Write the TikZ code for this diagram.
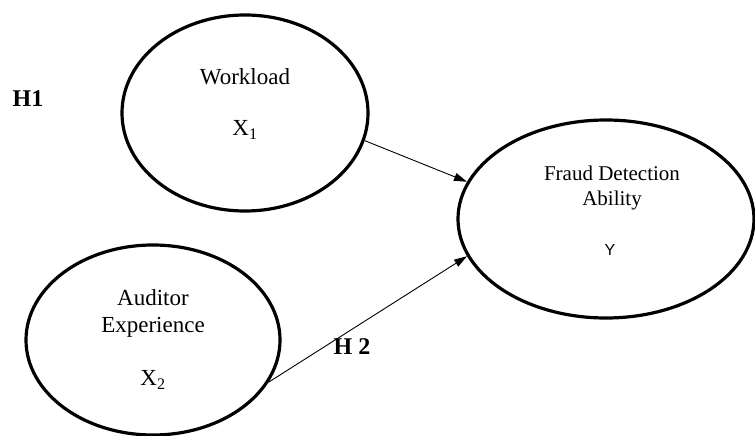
\documentclass[tikz,border=0pt]{standalone}
\usepackage{fontspec}
\setmainfont{Liberation Serif}
\newfontfamily\ysans{Liberation Sans}
\usetikzlibrary{shapes.geometric,arrows.meta}
\begin{document}
\begin{tikzpicture}[x=1pt,y=-1pt,
  var/.style={draw=black,line width=3.2pt,ellipse,inner sep=0pt},
  lbl/.style={inner sep=0pt,font=\fontsize{23}{27}\selectfont},
  hyp/.style={inner sep=0pt,font=\fontsize{24}{28}\selectfont\bfseries},
  link/.style={draw=black,line width=0.9pt,-{Triangle[length=13pt,width=8pt]}}]
\useasboundingbox (0,0) rectangle (755,436);
\node[var,minimum width=246pt,minimum height=196pt] (wl) at (245,113) {};
\node[var,minimum width=254pt,minimum height=190pt] (ae) at (153,340) {};
\node[var,minimum width=296pt,minimum height=198pt] (fd) at (606,219) {};
\node[lbl] (wlt) at (245,77) {Workload};
\node[lbl] (x1) at (245,130) {X\textsubscript{1}};
\node[lbl] (aet1) at (153,298) {Auditor};
\node[lbl] (aet2) at (153,327) {Experience};
\node[lbl] (x2) at (153,380) {X\textsubscript{2}};
\node[inner sep=0pt,font=\fontsize{21}{25}\selectfont] (fdt1) at (612,173) {Fraud Detection};
\node[inner sep=0pt,font=\fontsize{21}{25}\selectfont] (fdt2) at (612,200) {Ability};
\node[inner sep=0pt,font=\ysans\fontsize{16}{19}\selectfont] (yt) at (610,250) {Y};
\node[hyp] (h1) at (28,99) {H1};
\node[hyp] (h2) at (352,347) {H 2};
\draw[link] (wl.-13) -- (fd.165);
\draw[link] (ae.-20) -- (fd.195);
\end{tikzpicture}
\end{document}
